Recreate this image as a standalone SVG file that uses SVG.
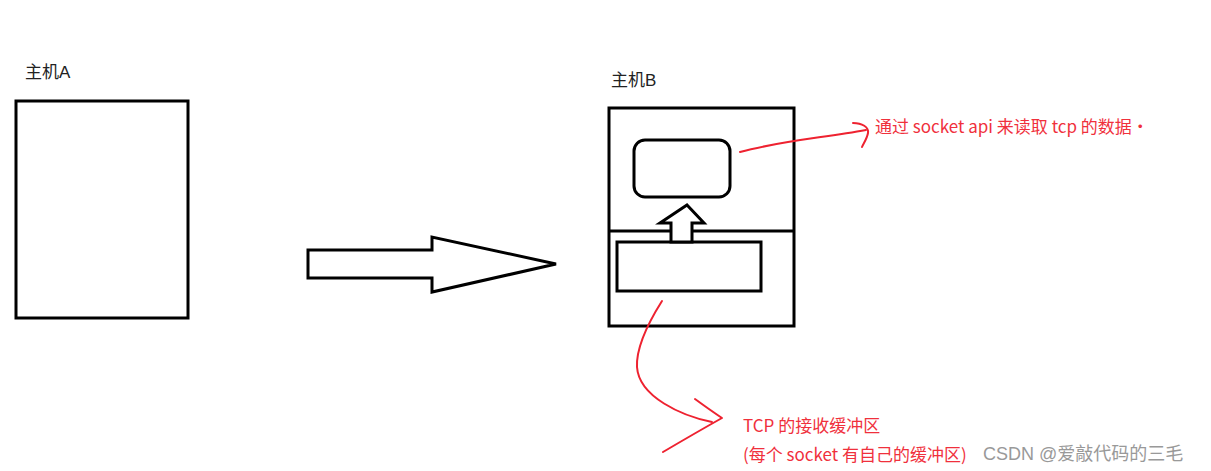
<svg xmlns="http://www.w3.org/2000/svg" width="1211" height="471" viewBox="0 0 1211 471">
<style>
.box{fill:#fff;stroke:#000;stroke-width:3}
.lbl{font-family:"Liberation Sans","Noto Sans CJK SC",sans-serif;font-size:17px;fill:#222}
.red{fill:none;stroke:#ee2230;stroke-width:2;stroke-linecap:round;stroke-linejoin:round}
.rt{font-family:"Noto Sans CJK SC",sans-serif;font-size:17px;fill:#f0303c}
.wm{font-family:"Liberation Sans","Noto Sans CJK SC",sans-serif;font-size:18px;fill:#999}
</style>
<rect width="1211" height="471" fill="#fff"/>
<g id="hostA">
<text class="lbl" x="25" y="78">主机A</text>
<rect class="box" x="16" y="101" width="172" height="217"/>
</g>
<g id="transfer">
<polygon class="box" points="308,250 432,250 432,237 556,264 432,292 432,278 308,278"/>
</g>
<g id="hostB">
<text class="lbl" x="611" y="86">主机B</text>
<rect class="box" x="609" y="108" width="185" height="218"/>
<line x1="609" y1="231" x2="794" y2="231" stroke="#000" stroke-width="3"/>
</g>
<g id="app">
<rect class="box" x="634" y="140" width="96" height="57" rx="11"/>
</g>
<g id="buffer">
<rect class="box" x="617" y="242" width="144" height="49"/>
</g>
<g id="up-arrow">
<polygon class="box" points="687,205 704,223 692,223 692,242 671,242 671,223 660,223"/>
</g>
<g id="connectors">
<path class="red" d="M740,152 C780,141 822,138 866,130"/>
<path class="red" d="M853,123 C862,123 869,127 868,133 C867,139 863,144 862,147"/>
<path class="red" d="M662,301 C650,320 636,345 637,367 C639,397 682,416 712,422"/>
<path class="red" d="M695,399 Q710,410 722,418 Q697,432 663,452"/>
</g>
<g id="notes">
<text class="rt" x="875" y="133">通过 socket api 来读取 tcp 的数据·</text>
<text class="rt" x="743" y="432">TCP 的接收缓冲区</text>
<text class="rt" x="743" y="461">(每个 socket 有自己的缓冲区)</text>
<text class="wm" x="983" y="460">CSDN @爱敲代码的三毛</text>
</g>
</svg>
